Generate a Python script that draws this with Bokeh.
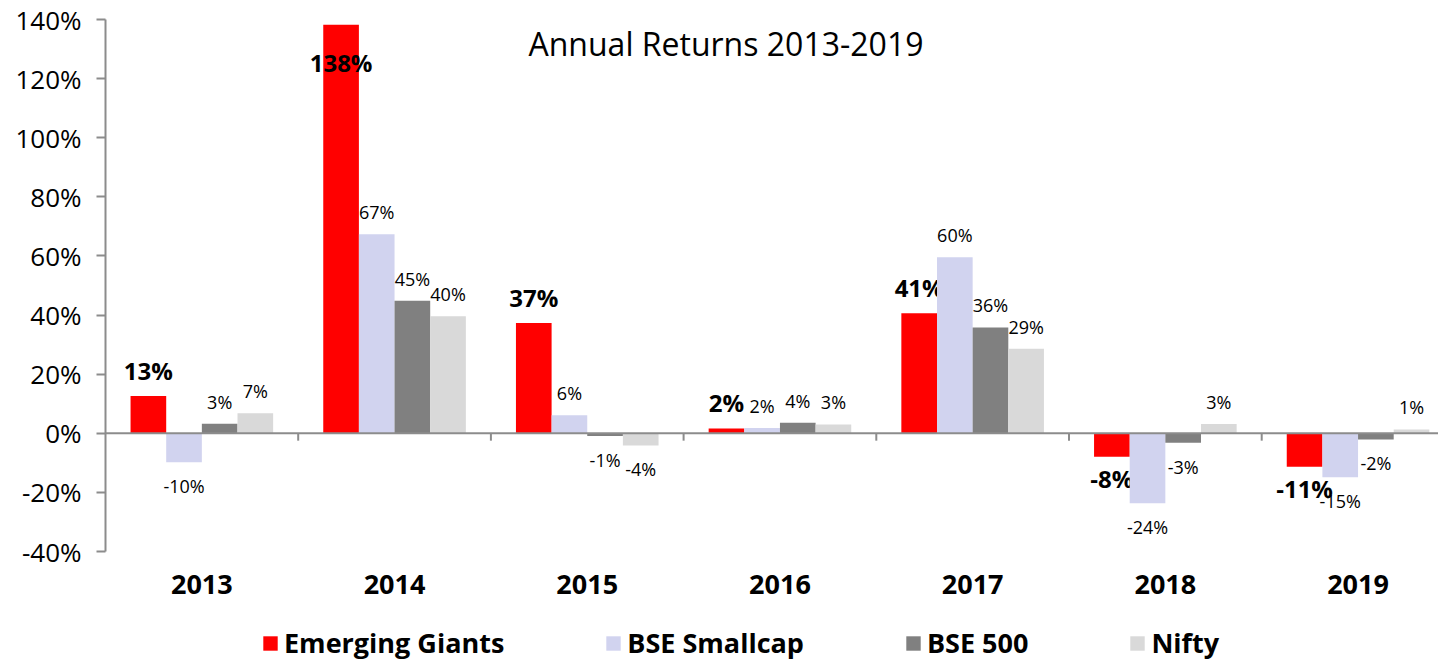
from bokeh.plotting import figure
from bokeh.models import Range1d, FixedTicker, Span, Legend, LegendItem, ColumnDataSource
from bokeh.core.properties import value
from bokeh.embed import file_html
from bokeh.resources import INLINE

# ---------------- data ----------------
years = ["2013", "2014", "2015", "2016", "2017", "2018", "2019"]
series_names = ["Emerging Giants", "BSE Smallcap", "BSE 500", "Nifty"]
emerging_giants = [12.6, 138.2, 37.3, 1.6, 40.6, -7.9, -11.3]
bse_smallcap = [-9.8, 67.3, 6.1, 1.8, 59.6, -23.7, -14.9]
bse_500 = [3.2, 44.8, -0.9, 3.6, 35.8, -3.2, -2.1]
nifty = [6.8, 39.6, -4.1, 3.0, 28.6, 3.1, 1.3]
y_ticks = [-40, -20, 0, 20, 40, 60, 80, 100, 120, 140]
y_tick_labels = ["-40%", "-20%", "0%", "20%", "40%", "60%", "80%", "100%", "120%", "140%"]
title_text = "Annual Returns 2013-2019"

# ---------------- style / layout ----------------
colors = ["#FF0000", "#D1D3EF", "#808080", "#D9D9D9"]
axis_gray = "#8C8C8C"
FONT = "Open Sans"
bar_w = 0.185
W, H = 1438, 661
LEFT, TOP = 105, 19
PX_PER_UNIT = 2.9556          # vertical pixels per percentage point
PX_PER_CAT = 192.7            # horizontal pixels per category
Y_MIN_AXIS, Y_MAX = y_ticks[0], y_ticks[-1]
Y_LOW = Y_MAX - (H - TOP) / PX_PER_UNIT
X_END = (W - LEFT) / PX_PER_CAT

p = figure(width=W, height=H,
           x_range=Range1d(0, X_END), y_range=Range1d(Y_LOW, Y_MAX),
           output_backend="svg", toolbar_location=None,
           x_axis_location=None,
           min_border_left=LEFT, min_border_right=0,
           min_border_top=TOP, min_border_bottom=0)

p.xgrid.visible = False
p.ygrid.visible = False
p.outline_line_color = None
p.background_fill_color = "white"
p.border_fill_color = "white"

# y axis (line only between -40% and 140%)
p.yaxis.bounds = (Y_MIN_AXIS, Y_MAX)
p.yaxis.ticker = FixedTicker(ticks=y_ticks)
p.yaxis.major_label_overrides = {t: l for t, l in zip(y_ticks, y_tick_labels)}
p.yaxis.axis_line_color = axis_gray
p.yaxis.axis_line_width = 2
p.yaxis.major_tick_line_color = axis_gray
p.yaxis.major_tick_line_width = 2
p.yaxis.major_tick_out = 9
p.yaxis.major_tick_in = 0
p.yaxis.minor_tick_line_color = None
p.yaxis.major_label_text_font = FONT
p.yaxis.major_label_text_font_size = "26px"
p.yaxis.major_label_text_color = "black"
p.yaxis.major_label_standoff = 15

# zero line and category separators
p.add_layout(Span(location=0, dimension="width", line_color=axis_gray, line_width=2))
bounds = [float(i) for i in range(1, len(years))]
p.segment(x0=bounds, y0=[0] * len(bounds), x1=bounds, y1=[-2.5] * len(bounds),
          line_color=axis_gray, line_width=2)

# category labels under the plot
centers = [i + 0.5 for i in range(len(years))]
p.text(x=centers, y=[Y_MIN_AXIS] * len(years), text=years, y_offset=[33] * len(years),
       text_align="center", text_baseline="middle",
       text_font=value(FONT), text_font_size="27px", text_font_style="bold",
       text_color="black")

# bars and labels
all_series = [emerging_giants, bse_smallcap, bse_500, nifty]
renderers = []
for j, (vals, col) in enumerate(zip(all_series, colors)):
    off = (j - 1.5) * bar_w
    xs = [c + off for c in centers]
    src = ColumnDataSource(dict(x=xs, top=vals))
    r = p.vbar(x="x", top="top", bottom=0, width=bar_w, source=src,
               fill_color=col, line_color=None)
    renderers.append(r)

    texts = [f"{round(v)}%" for v in vals]
    if j == 0:
        offs = []
        for v in vals:
            if v >= 0:
                if v + 40 / PX_PER_UNIT > Y_MAX:
                    offs.append(38)      # label inside the bar when it would overflow
                else:
                    offs.append(-26)
            else:
                offs.append(22)
        size, style = "24px", "bold"
    else:
        offs = [-22 if v >= 0 else 24 for v in vals]
        size, style = "18px", "normal"
    lsrc = ColumnDataSource(dict(x=xs, y=vals, text=texts, yo=offs))
    p.text(x="x", y="y", text="text", y_offset="yo", source=lsrc,
           text_align="center", text_baseline="middle",
           text_font=value(FONT), text_font_size=size, text_font_style=style,
           text_color="black")

# title (inside plot area)
p.text(x=[3.22], y=[Y_MAX], text=[title_text], y_offset=[24],
       text_align="center", text_baseline="middle",
       text_font=value(FONT), text_font_size="32px", text_color="black")

legend = Legend(items=[LegendItem(label=n, renderers=[r]) for n, r in zip(series_names, renderers)],
                orientation="horizontal", location=(156, 0),
                glyph_width=18, glyph_height=18, label_standoff=5, spacing=100,
                padding=0, margin=0, border_line_color=None, background_fill_alpha=0,
                label_text_font=FONT, label_text_font_style="bold",
                label_text_font_size="27px", label_text_color="black")
p.add_layout(legend, "center")

open("out.html", "w").write(file_html(p, INLINE))
